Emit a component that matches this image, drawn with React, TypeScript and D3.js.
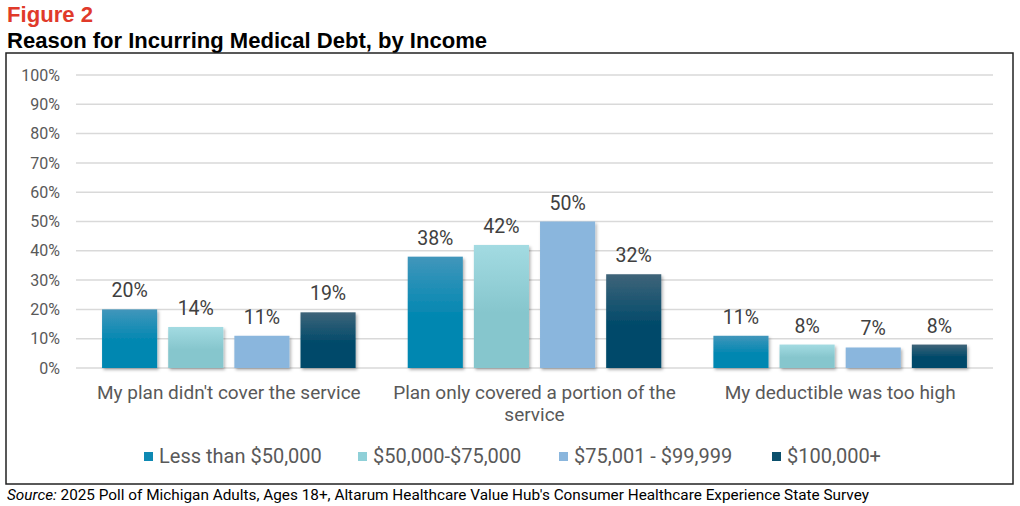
import React from "react";
import * as d3 from "d3";

const categories = [
  ["My plan didn't cover the service"],
  ["Plan only covered a portion of the", "service"],
  ["My deductible was too high"],
];
const series = ["Less than $50,000", "$50,000-$75,000", "$75,001 - $99,999", "$100,000+"];
const lessThan50k = [20, 38, 11];
const from50to75k = [14, 42, 8];
const from75to100k = [11, 50, 7];
const over100k = [19, 32, 8];
const tickValues = [0, 10, 20, 30, 40, 50, 60, 70, 80, 90, 100];

const values = [lessThan50k, from50to75k, from75to100k, over100k];
const gradTop = ["#4196bb", "#a3dbe2", "#8ab6dd", "#3f6479"];
const gradBottom = ["#0087b1", "#86c6cd", "#8ab6dd", "#004a6a"];
const legendColors = ["#0e89b3", "#8fd0d8", "#8ab6dd", "#0b4f6c"];

const W = 1020;
const H = 506;
const font = "Roboto, 'Liberation Sans', Arial, sans-serif";

export default function App() {
  const x0 = d3.scaleBand<number>().domain(categories.map((_, i) => i)).range([76, 993]).paddingInner(0).paddingOuter(0);
  const x1 = d3.scaleBand<number>().domain(series.map((_, i) => i)).range([0, x0.bandwidth()]).paddingInner(0.167).paddingOuter(0.394);
  const y = d3.scaleLinear().domain([0, 100]).range([368, 75]);

  const legendX = [144, 358, 559, 772];

  return (
    <svg width={W} height={H} style={{ position: "absolute", left: 0, top: 0, background: "#fff" }} fontFamily={font}>
      <defs>
        {series.map((_, i) => (
          <linearGradient key={i} id={`g${i}`} x1="0" y1="0" x2="0" y2="1">
            <stop offset="0" stopColor={gradTop[i]} />
            <stop offset="0.55" stopColor={gradBottom[i]} />
            <stop offset="1" stopColor={gradBottom[i]} />
          </linearGradient>
        ))}
        <filter id="shadow" x="-20%" y="-20%" width="140%" height="140%">
          <feDropShadow dx="1.5" dy="2" stdDeviation="1.5" floodColor="#000" floodOpacity="0.3" />
        </filter>
      </defs>
      <rect x={0} y={0} width={W} height={H} fill="#fff" />
      <text x={7} y={22} fill="#e03a2a" fontSize={21.5} fontWeight="bold" fontFamily="'Liberation Sans', Arial, sans-serif" textLength={86} lengthAdjust="spacingAndGlyphs">Figure 2</text>
      <text x={7} y={48} fill="#000" fontSize={21.5} fontWeight="bold" fontFamily="'Liberation Sans', Arial, sans-serif" textLength={480} lengthAdjust="spacingAndGlyphs">Reason for Incurring Medical Debt, by Income</text>
      <rect x={6} y={53} width={1007} height={431} fill="none" stroke="#222" strokeWidth={1.5} />

      {tickValues.map((t) => (
        <g key={t}>
          <line x1={76} x2={993} y1={y(t)} y2={y(t)} stroke="#d9d9d9" strokeWidth={1.5} />
          <text x={60} y={y(t)} dy="0.35em" textAnchor="end" fill="#595959" fontSize={16}>{t}%</text>
        </g>
      ))}

      {categories.map((cat, ci) => (
        <g key={ci} transform={`translate(${x0(ci)},0)`}>
          {series.map((_, si) => {
            const v = values[si][ci];
            const bx = x1(si)!;
            return (
              <g key={si}>
                <rect x={bx} y={y(v)} width={x1.bandwidth()} height={y(0) - y(v)} fill={`url(#g${si})`} filter="url(#shadow)" />
                <text x={bx + x1.bandwidth() / 2} y={y(v) - 12} textAnchor="middle" fill="#404040" fontSize={19.5}>{v}%</text>
              </g>
            );
          })}
          {cat.map((line, li) => (
            <text key={li} x={x0.bandwidth() / 2} y={399 + li * 22} textAnchor="middle" fill="#595959" fontSize={19}>{line}</text>
          ))}
        </g>
      ))}

      {series.map((s, i) => (
        <g key={s}>
          <rect x={legendX[i]} y={452} width={9} height={9} fill={legendColors[i]} />
          <text x={legendX[i] + 15} y={463} fill="#595959" fontSize={20}>{s}</text>
        </g>
      ))}

      <text x={7} y={500} fill="#000" fontSize={14.5} textLength={862} lengthAdjust="spacingAndGlyphs">
        <tspan fontStyle="italic">Source:</tspan> 2025 Poll of Michigan Adults, Ages 18+, Altarum Healthcare Value Hub's Consumer Healthcare Experience State Survey
      </text>
    </svg>
  );
}
